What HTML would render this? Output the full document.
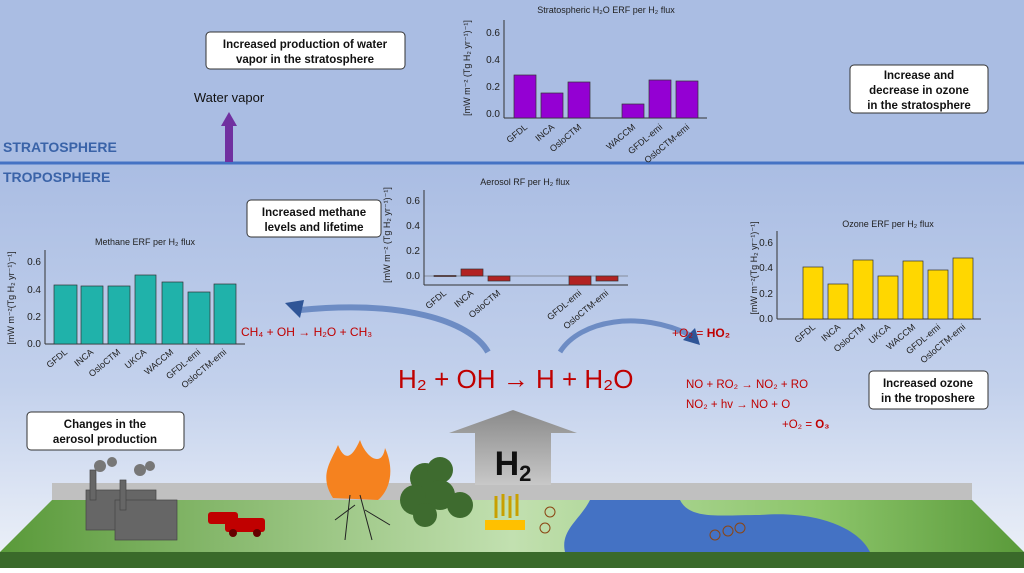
<!DOCTYPE html>
<html><head><meta charset="utf-8"><style>
body{margin:0;width:1024px;height:568px;overflow:hidden;font-family:"Liberation Sans",sans-serif}
svg text{font-family:"Liberation Sans","DejaVu Sans",sans-serif}
</style></head><body>
<svg width="1024" height="568" viewBox="0 0 1024 568" xmlns="http://www.w3.org/2000/svg">
<defs>
<linearGradient id="tro" x1="0" y1="0" x2="0" y2="1">
<stop offset="0" stop-color="#aabde3"/><stop offset="0.55" stop-color="#c3d1ec"/><stop offset="1" stop-color="#eef2f9"/>
</linearGradient>
<linearGradient id="gr" x1="0" y1="0" x2="1" y2="0">
<stop offset="0" stop-color="#5a9a3a"/><stop offset="0.5" stop-color="#c2e0b0"/><stop offset="0.8" stop-color="#8cc56a"/><stop offset="1" stop-color="#5a9a3a"/>
</linearGradient>
<linearGradient id="h2a" x1="0" y1="0" x2="0" y2="1"><stop offset="0" stop-color="#8a8a8a"/><stop offset="1" stop-color="#c8c8c8"/></linearGradient>
</defs>
<rect width="1024" height="165" fill="#aabde3"/>
<rect y="165" width="1024" height="403" fill="url(#tro)"/>
<line x1="0" y1="163" x2="1024" y2="163" stroke="#4472c4" stroke-width="3"/>
<text x="3" y="152" font-size="14" font-weight="bold" fill="#3a63a8">STRATOSPHERE</text>
<text x="3" y="182" font-size="14" font-weight="bold" fill="#3a63a8">TROPOSPHERE</text>
<rect x="225" y="126" width="8" height="36" fill="#7030a0"/>
<polygon points="221,126 237,126 229,112" fill="#7030a0"/>
<text x="229" y="102" font-size="13" text-anchor="middle" fill="#111">Water vapor</text>
<g font-size="11.5" font-weight="bold" text-anchor="middle" fill="#111">
<rect x="206" y="32" width="199" height="37" rx="4" fill="#fff" stroke="#333"/>
<text x="305" y="48">Increased production of water</text><text x="305" y="63">vapor in the stratosphere</text>
<rect x="850" y="65" width="138" height="48" rx="4" fill="#fff" stroke="#333"/>
<text x="919" y="79">Increase and</text><text x="919" y="94">decrease in ozone</text><text x="919" y="109">in the stratosphere</text>
<rect x="247" y="200" width="134" height="37" rx="4" fill="#fff" stroke="#333"/>
<text x="314" y="216">Increased methane</text><text x="314" y="231">levels and lifetime</text>
<rect x="27" y="412" width="157" height="38" rx="4" fill="#fff" stroke="#333"/>
<text x="105" y="428">Changes in the</text><text x="105" y="443">aerosol production</text>
<rect x="869" y="371" width="119" height="38" rx="4" fill="#fff" stroke="#333"/>
<text x="928" y="387">Increased ozone</text><text x="928" y="402">in the troposhere</text>
</g>
<!-- Strat chart -->
<g font-size="9" fill="#222">
<text x="606" y="13" text-anchor="middle">Stratospheric H₂O ERF per H₂ flux</text>
<line x1="504" y1="20" x2="504" y2="118" stroke="#333"/><line x1="504" y1="118" x2="707" y2="118" stroke="#333"/>
<g font-size="10"><text x="500" y="117" text-anchor="end">0.0</text><text x="500" y="90" text-anchor="end">0.2</text><text x="500" y="63" text-anchor="end">0.4</text><text x="500" y="36" text-anchor="end">0.6</text></g>
<text transform="translate(470,68) rotate(-90)" text-anchor="middle">[mW m⁻² (Tg H₂ yr⁻¹)⁻¹]</text>
<g fill="#9400d3" stroke="#333" stroke-width="0.7">
<rect x="514" y="75" width="22" height="43"/><rect x="541" y="93" width="22" height="25"/><rect x="568" y="82" width="22" height="36"/>
<rect x="622" y="104" width="22" height="14"/><rect x="649" y="80" width="22" height="38"/><rect x="676" y="81" width="22" height="37"/></g>
<g text-anchor="end"><text transform="translate(528,128) rotate(-40)">GFDL</text><text transform="translate(555,128) rotate(-40)">INCA</text><text transform="translate(582,128) rotate(-40)">OsloCTM</text><text transform="translate(636,128) rotate(-40)">WACCM</text><text transform="translate(663,128) rotate(-40)">GFDL-emi</text><text transform="translate(690,128) rotate(-40)">OsloCTM-emi</text></g>
</g>
<!-- Methane chart -->
<g font-size="9" fill="#222">
<text x="145" y="245" text-anchor="middle">Methane ERF per H₂ flux</text>
<line x1="45" y1="250" x2="45" y2="344" stroke="#333"/><line x1="45" y1="344" x2="245" y2="344" stroke="#333"/>
<g font-size="10"><text x="41" y="347" text-anchor="end">0.0</text><text x="41" y="320" text-anchor="end">0.2</text><text x="41" y="293" text-anchor="end">0.4</text><text x="41" y="265" text-anchor="end">0.6</text></g>
<text transform="translate(14,298) rotate(-90)" text-anchor="middle">[mW m⁻²(Tg H₂ yr⁻¹)⁻¹]</text>
<g fill="#20b2aa" stroke="#333" stroke-width="0.7">
<rect x="54" y="285" width="23" height="59"/><rect x="81" y="286" width="22" height="58"/><rect x="108" y="286" width="22" height="58"/><rect x="135" y="275" width="21" height="69"/><rect x="162" y="282" width="21" height="62"/><rect x="188" y="292" width="22" height="52"/><rect x="214" y="284" width="22" height="60"/></g>
<g text-anchor="end"><text transform="translate(68,353) rotate(-40)">GFDL</text><text transform="translate(94,353) rotate(-40)">INCA</text><text transform="translate(121,353) rotate(-40)">OsloCTM</text><text transform="translate(147,353) rotate(-40)">UKCA</text><text transform="translate(174,353) rotate(-40)">WACCM</text><text transform="translate(201,353) rotate(-40)">GFDL-emi</text><text transform="translate(227,353) rotate(-40)">OsloCTM-emi</text></g>
</g>
<!-- Aerosol chart -->
<g font-size="9" fill="#222">
<text x="525" y="185" text-anchor="middle">Aerosol RF per H₂ flux</text>
<line x1="424" y1="190" x2="424" y2="285" stroke="#333"/><line x1="424" y1="285" x2="628" y2="285" stroke="#333"/><line x1="424" y1="276" x2="628" y2="276" stroke="#555" stroke-width="0.6"/>
<g font-size="10"><text x="420" y="279" text-anchor="end">0.0</text><text x="420" y="254" text-anchor="end">0.2</text><text x="420" y="229" text-anchor="end">0.4</text><text x="420" y="204" text-anchor="end">0.6</text></g>
<text transform="translate(390,235) rotate(-90)" text-anchor="middle">[mW m⁻² (Tg H₂ yr⁻¹)⁻¹]</text>
<g fill="#b22222" stroke="#333" stroke-width="0.7">
<rect x="434" y="275.5" width="22" height="1"/><rect x="461" y="269" width="22" height="7"/><rect x="488" y="276" width="22" height="5"/><rect x="569" y="276" width="22" height="9"/><rect x="596" y="276" width="22" height="5"/></g>
<g text-anchor="end"><text transform="translate(447,294) rotate(-40)">GFDL</text><text transform="translate(474,294) rotate(-40)">INCA</text><text transform="translate(501,294) rotate(-40)">OsloCTM</text><text transform="translate(582,294) rotate(-40)">GFDL-emi</text><text transform="translate(609,294) rotate(-40)">OsloCTM-emi</text></g>
</g>
<!-- Ozone chart -->
<g font-size="9" fill="#222">
<text x="888" y="227" text-anchor="middle">Ozone ERF per H₂ flux</text>
<line x1="777" y1="231" x2="777" y2="319" stroke="#333"/><line x1="777" y1="319" x2="981" y2="319" stroke="#333"/>
<g font-size="10"><text x="773" y="322" text-anchor="end">0.0</text><text x="773" y="297" text-anchor="end">0.2</text><text x="773" y="271" text-anchor="end">0.4</text><text x="773" y="246" text-anchor="end">0.6</text></g>
<text transform="translate(757,268) rotate(-90)" text-anchor="middle">[mW m⁻²(Tg H₂ yr⁻¹)⁻¹]</text>
<g fill="#ffd700" stroke="#333" stroke-width="0.7">
<rect x="803" y="267" width="20" height="52"/><rect x="828" y="284" width="20" height="35"/><rect x="853" y="260" width="20" height="59"/><rect x="878" y="276" width="20" height="43"/><rect x="903" y="261" width="20" height="58"/><rect x="928" y="270" width="20" height="49"/><rect x="953" y="258" width="20" height="61"/></g>
<g text-anchor="end"><text transform="translate(816,328) rotate(-40)">GFDL</text><text transform="translate(841,328) rotate(-40)">INCA</text><text transform="translate(866,328) rotate(-40)">OsloCTM</text><text transform="translate(891,328) rotate(-40)">UKCA</text><text transform="translate(916,328) rotate(-40)">WACCM</text><text transform="translate(941,328) rotate(-40)">GFDL-emi</text><text transform="translate(966,328) rotate(-40)">OsloCTM-emi</text></g>
</g>
<!-- curved arrows -->
<path d="M488,352 C470,320 400,300 300,310" fill="none" stroke="#6d8cc4" stroke-width="6"/>
<polygon points="285,303 304,300 300,318" fill="#2f5597"/>
<path d="M560,352 C580,320 640,310 690,335" fill="none" stroke="#6d8cc4" stroke-width="5"/>
<polygon points="695,328 700,345 683,340" fill="#2f5597"/>
<g fill="#c00000">
<text x="241" y="336" font-size="12">CH₄ + OH → H₂O + CH₃</text>
<text x="672" y="337" font-size="12">+O₂ = <tspan font-weight="bold">HO₂</tspan></text>
<text x="398" y="388" font-size="26">H₂ + OH → H + H₂O</text>
<text x="686" y="388" font-size="11.5">NO + RO₂ → NO₂ + RO</text>
<text x="686" y="408" font-size="11.5">NO₂ + hv → NO + O</text>
<text x="782" y="428" font-size="11.5">+O₂ = <tspan font-weight="bold">O₃</tspan></text>
</g>
<!-- ground -->
<rect x="52" y="483" width="920" height="17" fill="#c0c0c0"/>
<polygon points="52,500 972,500 1024,552 0,552" fill="url(#gr)"/>
<rect y="552" width="1024" height="16" fill="#3a6a2a"/>
<path d="M590,500 L680,500 C690,520 720,515 760,515 C820,510 860,530 870,552 L565,552 C560,530 580,520 590,500Z" fill="#4472c4"/>
<polygon points="475,485 475,433 449,433 513,410 577,433 551,433 551,485" fill="url(#h2a)"/>
<text x="513" y="475" font-size="34" font-weight="bold" text-anchor="middle" fill="#111">H<tspan font-size="22" dy="6">2</tspan></text>
<g fill="#666" stroke="#444" stroke-width="0.7">
<rect x="86" y="490" width="70" height="40"/><rect x="115" y="500" width="62" height="40"/><rect x="90" y="470" width="6" height="30"/><rect x="120" y="480" width="6" height="30"/>
</g>
<circle cx="100" cy="466" r="6" fill="#777"/><circle cx="112" cy="462" r="5" fill="#777"/><circle cx="140" cy="470" r="6" fill="#777"/><circle cx="150" cy="466" r="5" fill="#777"/>
<rect x="208" y="512" width="30" height="12" rx="3" fill="#c00000"/><rect x="225" y="518" width="40" height="14" rx="3" fill="#c00000"/>
<circle cx="233" cy="533" r="4" fill="#600"/><circle cx="257" cy="533" r="4" fill="#600"/>
<path d="M333,498 C318,475 332,460 338,445 C345,462 352,458 360,440 C366,458 382,468 385,448 C395,470 390,490 378,500Z" fill="#f5821f"/>
<g stroke="#222" stroke-width="1" fill="none"><path d="M350,495 L345,540 M360,495 L372,540 M355,505 L335,520 M365,510 L390,525"/></g>
<g fill="#3e6b2f"><circle cx="425" cy="478" r="15"/><circle cx="440" cy="470" r="13"/><circle cx="415" cy="500" r="15"/><circle cx="440" cy="495" r="15"/><circle cx="460" cy="505" r="13"/><circle cx="425" cy="515" r="12"/></g>
<rect x="485" y="520" width="40" height="10" fill="#ffc000"/>
<path d="M496,496 v22 M503,494 v22 M510,496 v22 M517,494 v22" stroke="#c8a000" stroke-width="3"/>
<circle cx="550" cy="512" r="5" fill="none" stroke="#8b4513"/><circle cx="545" cy="528" r="5" fill="none" stroke="#8b4513"/>
<circle cx="715" cy="535" r="5" fill="none" stroke="#8b4513"/><circle cx="728" cy="531" r="5" fill="none" stroke="#8b4513"/><circle cx="740" cy="528" r="5" fill="none" stroke="#8b4513"/>
</svg>
</body></html>
